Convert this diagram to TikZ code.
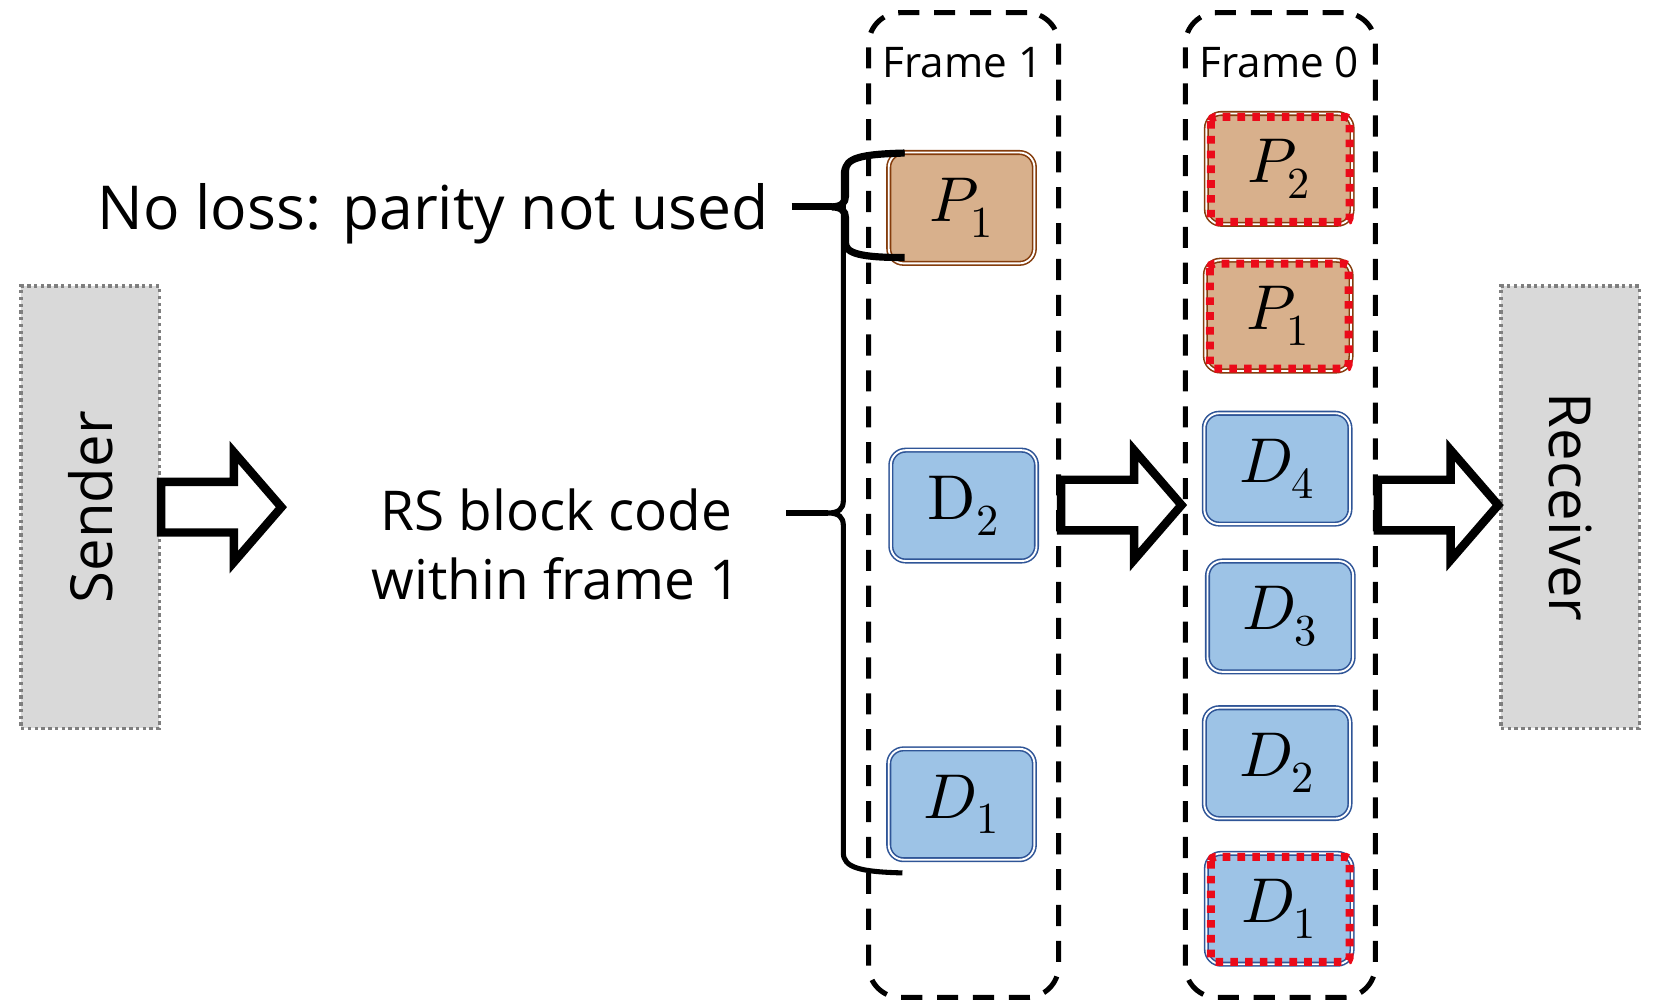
\documentclass[tikz,border=0pt]{standalone}
\usepackage{fontspec}
\usepackage{unicode-math}
\setmainfont{Open Sans}
\setmathfont{Latin Modern Math}
\usetikzlibrary{calc}

\definecolor{parityfill}{RGB}{216,176,140}
\definecolor{paritydraw}{RGB}{132,60,12}
\definecolor{datafill}{RGB}{157,195,230}
\definecolor{datadraw}{RGB}{47,85,151}
\definecolor{hostfill}{RGB}{217,217,217}
\definecolor{hostdraw}{RGB}{127,127,127}
\definecolor{lossred}{RGB}{235,10,25}

\tikzset{
  host/.style={rectangle, fill=hostfill, draw=hostdraw, line width=1.6pt,
    dash pattern=on 1.6pt off 1.6pt, minimum width=65.5pt, minimum height=209.5pt,
    inner sep=0pt, font=\fontsize{27.5}{33}\selectfont},
  frame/.style={rectangle, draw=black, line width=2.4pt, dash pattern=on 10pt off 7pt,
    rounded corners=15pt, minimum width=90pt, minimum height=466.5pt, inner sep=0pt},
  framelabel/.style={inner sep=0pt, anchor=base, font=\fontsize{20}{24}\selectfont},
  packet/.style={rectangle, rounded corners=7pt, minimum width=69pt, minimum height=52.5pt,
    inner sep=0pt, line width=0.75pt, double distance=0.9pt, double=white,
    font=\fontsize{30}{34}\selectfont},
  parity/.style={packet, fill=parityfill, draw=paritydraw},
  data/.style={packet, fill=datafill, draw=datadraw},
  lossmark/.style={draw=lossred, line width=3.8pt, dash pattern=on 3.6pt off 3.4pt,
    rounded corners=2pt},
  blockarrow/.style={draw=black, fill=white, line width=4pt, miter limit=10},
  bracesmall/.style={draw=black, line width=3.4pt},
  bracebig/.style={draw=black, line width=2.4pt},
  caption/.style={inner sep=0pt, align=center},
}

% hollow block arrow starting at the given point, pointing right
\newcommand\hollowarrow[1]{%
  \draw[blockarrow, shift={#1}] (0,-24) -- (69,-24) -- (69,-52) -- (114,0)
    -- (69,52) -- (69,24) -- (0,24) -- cycle;}

\begin{document}
\begin{tikzpicture}[x=0.5pt, y=-0.5pt]
  \useasboundingbox (0,0) rectangle (1568,949);

  % end hosts
  \node[host] (sender) at (85.5,480.5) {\rotatebox{90}{Sender}};
  \node[host] (receiver) at (1487.5,480.5) {\rotatebox{-90}{Receiver}};

  % frames
  \node[frame] (frame1) at (913,478.5) {};
  \node[frame] (frame0) at (1213,478.5) {};
  \node[framelabel] (frame1label) at (912,73) {Frame 1};
  \node[framelabel] (frame0label) at (1212,73) {Frame 0};

  % packets of frame 1
  \node[parity] (f1p1) at (911,197) {$P_1$};
  \node[data]   (f1d2) at (913,479) {$\symup{D}_2$};
  \node[data]   (f1d1) at (911,762) {$D_1$};

  % packets of frame 0
  \node[parity] (f0p2) at (1212,160) {$P_2$};
  \node[parity] (f0p1) at (1211,299) {$P_1$};
  \node[data]   (f0d4) at (1210,444) {$D_4$};
  \node[data]   (f0d3) at (1213,584) {$D_3$};
  \node[data]   (f0d2) at (1210,723) {$D_2$};
  \node[data]   (f0d1) at (1212,861) {$D_1$};

  % lost packets
  \foreach \p in {f0p2,f0p1,f0d1}
    \draw[lossmark] ([shift={(5,4)}]\p.north west) rectangle ([shift={(-3,-3)}]\p.south east);

  % transfer arrows
  \hollowarrow{(sender.east)}
  \hollowarrow{(frame1.east)}
  \hollowarrow{(frame0.east)}

  % captions
  \node[caption, anchor=base east, font=\fontsize{28.7}{34}\selectfont] (noloss) at (729,217)
    {No loss: parity not used};
  \node[caption, anchor=base, font=\fontsize{26}{32.5}\selectfont] (rscode) at (527,568)
    {RS block code\\within frame 1};

  % brace over the parity packet
  \coordinate (smalltop) at (857,145);
  \coordinate (smallbot) at (857,244);
  \coordinate (smalltip) at (788,196);
  \coordinate (nolossstub) at (750,196);
  \draw[bracesmall] (smalltop) .. controls (815,146) and (801,150) .. (801,162)
    -- (801,186) .. controls (801,192) and (797,196) .. (smalltip)
    .. controls (797,196) and (801,200) .. (801,206)
    -- (801,230) .. controls (801,240) and (815,244) .. (smallbot);
  \draw[bracesmall] (nolossstub) -- (smalltip);

  % brace over the whole RS block
  \coordinate (bigtop) at (857,145);
  \coordinate (bigbot) at (855,827);
  \coordinate (bigtip) at (784,486);
  \coordinate (rsstub) at (745,486);
  \draw[bracebig] (bigtop) .. controls (815,146) and (799,150) .. (799,165)
    -- (799,474) .. controls (799,482) and (795,486) .. (bigtip)
    .. controls (795,486) and (799,490) .. (799,498)
    -- (799,808) .. controls (799,822) and (815,826) .. (bigbot);
  \draw[bracebig] (rsstub) -- (bigtip);
\end{tikzpicture}
\end{document}
